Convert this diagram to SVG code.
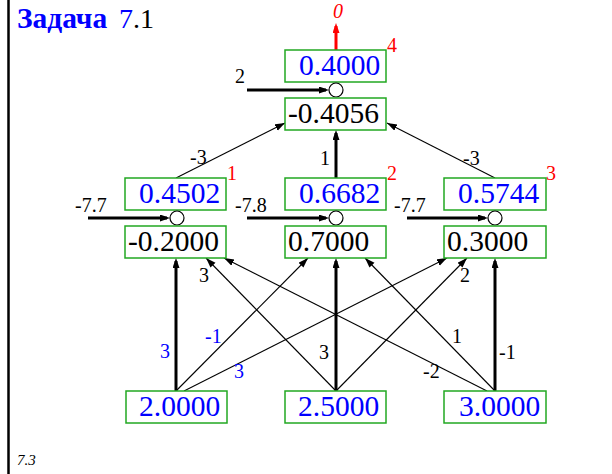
<svg xmlns="http://www.w3.org/2000/svg" width="612" height="474" viewBox="0 0 612 474">
<style>
text{font-family:'Liberation Serif',serif}
.bx{fill:#fff;stroke:#22a822;stroke-width:1.5}
.v{font-size:29.5px}
.b{fill:#0000ff}
.k{fill:#000}
.l{font-size:20px;fill:#000}
.lb{font-size:20px;fill:#0000ff}
.r{font-size:20px;fill:#ff0000}
.thin{stroke:#000;stroke-width:1.1;fill:none;marker-end:url(#ah)}
.thick{stroke:#000;stroke-width:3;fill:none;marker-end:url(#ahT)}
.c{fill:#fff;stroke:#000;stroke-width:1.2}
</style>
<defs>
<marker id="ah" markerUnits="userSpaceOnUse" markerWidth="11" markerHeight="8" refX="10" refY="3.5" orient="auto"><path d="M0,0 L10,3.5 L0,7 z" fill="#000"/></marker>
<marker id="ahT" markerUnits="userSpaceOnUse" markerWidth="11" markerHeight="8" refX="7" refY="3.5" orient="auto"><path d="M0,0 L10,3.5 L0,7 z" fill="#000"/></marker>
<marker id="ahR" markerUnits="userSpaceOnUse" markerWidth="11" markerHeight="8" refX="7" refY="3.5" orient="auto"><path d="M0,0 L10,3.5 L0,7 z" fill="#ff0000"/></marker>
</defs>
<rect width="612" height="474" fill="#fff"/>
<line x1="8.5" y1="0" x2="8.5" y2="474" stroke="#000" stroke-width="2.5"/>
<text x="17" y="28" font-size="29.5" font-weight="bold" fill="#0000ff">Задача</text>
<text x="119" y="28" font-size="28"><tspan fill="#0000ff">7</tspan><tspan fill="#000">.1</tspan></text>
<text x="17" y="465" font-size="15" font-style="italic" fill="#000">7.3</text>

<g id="connectors">
<line x1="336" y1="50" x2="336" y2="26" stroke="#ff0000" stroke-width="3" marker-end="url(#ahR)"/>
<line x1="247" y1="90" x2="326" y2="90" class="thick"/>
<line x1="176" y1="178" x2="285" y2="123" class="thin"/>
<line x1="336" y1="178" x2="336" y2="133" class="thick"/>
<line x1="495" y1="178" x2="387" y2="123" class="thin"/>
<line x1="88" y1="218" x2="167" y2="218" class="thick"/>
<line x1="247" y1="218" x2="326" y2="218" class="thick"/>
<line x1="407" y1="218" x2="485" y2="218" class="thick"/>
<line x1="176" y1="391" x2="176" y2="261" class="thick"/>
<line x1="176" y1="391" x2="308" y2="258" class="thin"/>
<line x1="184" y1="391" x2="447" y2="258" class="thin"/>
<line x1="336" y1="391" x2="336" y2="261" class="thick"/>
<line x1="336" y1="391" x2="206" y2="258" class="thin"/>
<line x1="336" y1="391" x2="467" y2="258" class="thin"/>
<line x1="495" y1="391" x2="495" y2="261" class="thick"/>
<line x1="495" y1="391" x2="365" y2="258" class="thin"/>
<line x1="487" y1="391" x2="224" y2="258" class="thin"/>
</g>

<g id="labels">
<text x="333" y="18" class="r" font-style="italic">0</text>
<text x="235" y="83" class="l">2</text>
<text x="190" y="164" class="l">-3</text>
<text x="320" y="165" class="l">1</text>
<text x="463" y="165" class="l">-3</text>
<text x="75" y="212" class="l">-7.7</text>
<text x="235" y="212" class="l">-7.8</text>
<text x="394" y="212" class="l">-7.7</text>
<text x="199" y="282" class="l">3</text>
<text x="460" y="282" class="l">2</text>
<text x="160" y="358" class="lb">3</text>
<text x="205" y="343" class="lb">-1</text>
<text x="234" y="378" class="lb">3</text>
<text x="319" y="359" class="l">3</text>
<text x="452" y="343" class="l">1</text>
<text x="423" y="378" class="l">-2</text>
<text x="499" y="359" class="l">-1</text>
</g>

<g id="n_out">
<rect x="285" y="50" width="101" height="32" class="bx"/>
<text x="299" y="75" class="v b">0.4000</text>
<text x="387" y="52" class="r">4</text>
<circle cx="336" cy="90" r="7" class="c"/>
<rect x="285" y="98" width="101" height="32" class="bx"/>
<text x="288" y="123" class="v k">-0.4056</text>
</g>

<g id="n_h1">
<rect x="125" y="178" width="101" height="32" class="bx"/>
<text x="139" y="203" class="v b">0.4502</text>
<text x="227" y="180" class="r">1</text>
<circle cx="177" cy="218" r="7" class="c"/>
<rect x="125" y="226" width="101" height="32" class="bx"/>
<text x="128" y="251" class="v k">-0.2000</text>
</g>

<g id="n_h2">
<rect x="285" y="178" width="101" height="32" class="bx"/>
<text x="299" y="203" class="v b">0.6682</text>
<text x="387" y="180" class="r">2</text>
<circle cx="336" cy="218" r="7" class="c"/>
<rect x="285" y="226" width="101" height="32" class="bx"/>
<text x="288" y="251" class="v k">0.7000</text>
</g>

<g id="n_h3">
<rect x="444" y="178" width="102" height="32" class="bx"/>
<text x="458" y="203" class="v b">0.5744</text>
<text x="546" y="180" class="r">3</text>
<circle cx="495" cy="218" r="7" class="c"/>
<rect x="444" y="226" width="102" height="32" class="bx"/>
<text x="447" y="251" class="v k">0.3000</text>
</g>

<g id="n_in1">
<rect x="126" y="391" width="101" height="32" class="bx"/>
<text x="139" y="416" class="v b">2.0000</text>
</g>
<g id="n_in2">
<rect x="285" y="391" width="101" height="32" class="bx"/>
<text x="298" y="416" class="v b">2.5000</text>
</g>
<g id="n_in3">
<rect x="444" y="391" width="102" height="32" class="bx"/>
<text x="459" y="416" class="v b">3.0000</text>
</g>
</svg>
